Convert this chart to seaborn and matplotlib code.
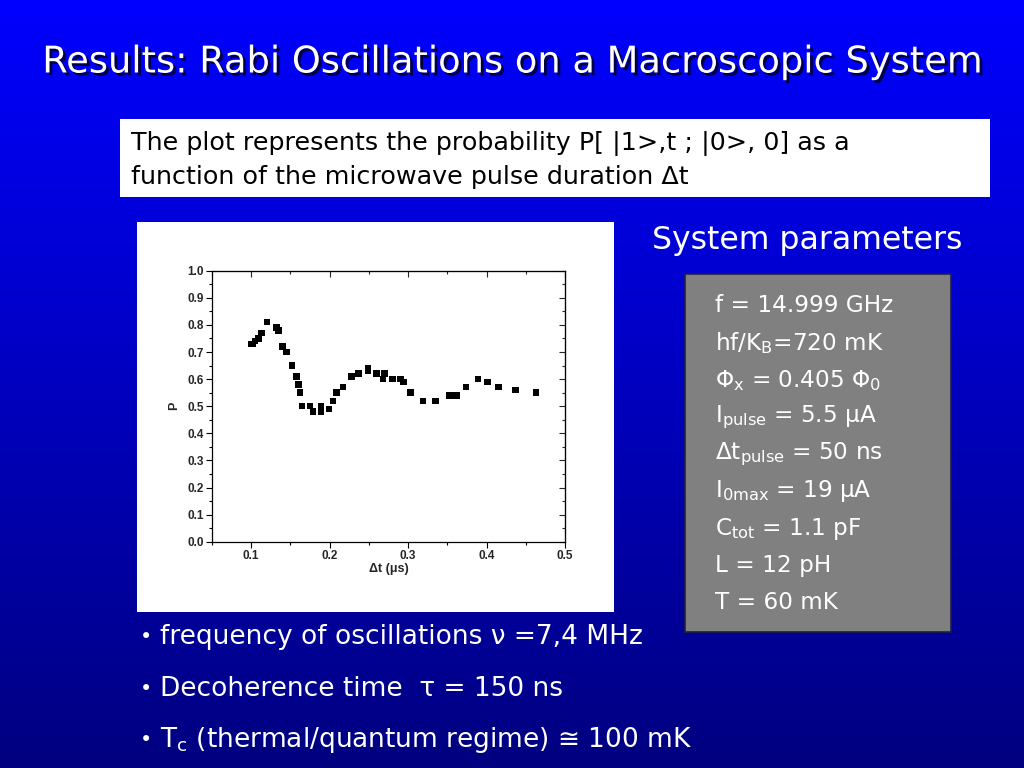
import numpy as np
import pandas as pd
import matplotlib
matplotlib.use("Agg")
import matplotlib.pyplot as plt
import matplotlib.patheffects as pe
from matplotlib.patches import Rectangle
from matplotlib.ticker import MultipleLocator
import seaborn as sns

# ---- data ----
dt_us = [0.100, 0.102, 0.105, 0.109, 0.113, 0.120, 0.132, 0.135, 0.140, 0.145,
         0.152, 0.158, 0.160, 0.162, 0.165, 0.175, 0.179, 0.189, 0.189, 0.199,
         0.204, 0.209, 0.217, 0.228, 0.237, 0.249, 0.249, 0.260, 0.268, 0.270,
         0.280, 0.290, 0.294, 0.303, 0.319, 0.335, 0.353, 0.362, 0.374, 0.389,
         0.401, 0.415, 0.437, 0.463]
prob = [0.73, 0.73, 0.74, 0.75, 0.77, 0.81, 0.79, 0.78, 0.72, 0.70,
        0.65, 0.61, 0.58, 0.55, 0.50, 0.50, 0.48, 0.50, 0.48, 0.49,
        0.52, 0.55, 0.57, 0.61, 0.62, 0.64, 0.63, 0.62, 0.60, 0.62,
        0.60, 0.60, 0.59, 0.55, 0.52, 0.52, 0.54, 0.54, 0.57, 0.60,
        0.59, 0.57, 0.56, 0.55]
x_ticks = [0.1, 0.2, 0.3, 0.4, 0.5]
y_ticks = [0.0, 0.1, 0.2, 0.3, 0.4, 0.5, 0.6, 0.7, 0.8, 0.9, 1.0]

title = "Results: Rabi Oscillations on a Macroscopic System"
intro_lines = ["The plot represents the probability P[ |1>,t ; |0>, 0] as a",
               "function of the microwave pulse duration \u0394t"]
params_heading = "System parameters"
params = ["f = 14.999 GHz",
          "hf/K$_\\mathregular{B}$=720 mK",
          "\u03a6$_\\mathregular{x}$ = 0.405 \u03a6$_\\mathregular{0}$",
          "I$_\\mathregular{pulse}$ = 5.5 \u03bcA",
          "\u0394t$_\\mathregular{pulse}$ = 50 ns",
          "I$_\\mathregular{0max}$ = 19 \u03bcA",
          "C$_\\mathregular{tot}$ = 1.1 pF",
          "L = 12 pH",
          "T = 60 mK"]
bullets = ["frequency of oscillations \u03bd =7,4 MHz",
           "Decoherence time  \u03c4 = 150 ns",
           "T$_\\mathregular{c}$ (thermal/quantum regime) \u2245 100 mK"]

df = pd.DataFrame({"dt": dt_us, "P": prob})

sns.set_style("white")
plt.rcParams["font.family"] = ["DejaVu Sans"]
plt.rcParams["mathtext.fontset"] = "dejavusans"
plt.rcParams["mathtext.default"] = "regular"

W, H = 1024, 768
fig = plt.figure(figsize=(W / 100, H / 100), dpi=100)

def fx(px):
    return px / W

def fy(py):
    return 1 - py / H

# ---- background gradient ----
bg = fig.add_axes([0, 0, 1, 1], zorder=-10)
grad = np.linspace(0, 1, 256).reshape(-1, 1)
top = np.array([0, 0, 255]) / 255
bot = np.array([0, 0, 128]) / 255
img = top[None, None, :] * (1 - grad[:, :, None]) + bot[None, None, :] * grad[:, :, None]
bg.imshow(img, aspect="auto", extent=[0, 1, 0, 1], origin="upper")
bg.set_axis_off()

# ---- title ----
fig.text(0.5, fy(62), title, ha="center", va="center", color="white",
         fontsize=26.5,
         path_effects=[pe.withSimplePatchShadow(offset=(2, -2), shadow_rgbFace="#000030", alpha=0.9)])

# ---- white intro box ----
fig.patches.append(Rectangle((fx(120), fy(197)), fx(990 - 120), (197 - 119) / H,
                             transform=fig.transFigure, facecolor="white",
                             edgecolor="none", zorder=1))
fig.text(fx(131), fy(143), intro_lines[0], ha="left", va="center", fontsize=18.3, color="black", zorder=2)
fig.text(fx(131), fy(177), intro_lines[1], ha="left", va="center", fontsize=18.3, color="black", zorder=2)

# ---- white plot panel ----
fig.patches.append(Rectangle((fx(137), fy(612)), fx(614 - 137), (612 - 222) / H,
                             transform=fig.transFigure, facecolor="white",
                             edgecolor="none", zorder=1))

ax = fig.add_axes([fx(212), fy(541.7), fx(565 - 212), (541.7 - 270.7) / H], zorder=3)
sns.scatterplot(data=df, x="dt", y="P", marker="s", s=22, color="black",
                edgecolor="none", linewidth=0, ax=ax, legend=False)
ax.set_xlim(0.05, 0.5)
ax.set_ylim(0.0, 1.0)
ax.set_xticks(x_ticks)
ax.set_yticks(y_ticks)
ax.set_xticklabels([f"{v:.1f}" for v in x_ticks], fontweight="bold", fontsize=8.5,
                   family="Liberation Sans")
ax.set_yticklabels([f"{v:.1f}" for v in y_ticks], fontweight="bold", fontsize=8.5,
                   family="Liberation Sans")
ax.xaxis.set_minor_locator(MultipleLocator(0.05))
ax.yaxis.set_minor_locator(MultipleLocator(0.05))
ax.tick_params(axis="both", which="major", direction="out", length=4, width=0.8,
               color="black", pad=2, bottom=True, left=True)
ax.tick_params(axis="both", which="minor", direction="out", length=2.5, width=0.8,
               color="black", bottom=True, left=True)
for sp in ax.spines.values():
    sp.set_color("black")
    sp.set_linewidth(0.9)
ax.set_xlabel("\u0394t (\u03bcs)", fontweight="bold", fontsize=9, family="Liberation Sans", labelpad=1)
ax.set_ylabel("P", fontweight="bold", fontsize=9, family="Liberation Sans", labelpad=5)

# mirrored ticks pointing inward on top and right
sx = ax.secondary_xaxis("top")
sx.set_xticks(x_ticks)
sx.xaxis.set_minor_locator(MultipleLocator(0.05))
sx.tick_params(axis="x", which="major", direction="in", length=4, width=0.8, labeltop=False)
sx.tick_params(axis="x", which="minor", direction="in", length=2.5, width=0.8)
sx.set_xticklabels([])
sy = ax.secondary_yaxis("right")
sy.set_yticks(y_ticks)
sy.yaxis.set_minor_locator(MultipleLocator(0.05))
sy.tick_params(axis="y", which="major", direction="in", length=4, width=0.8)
sy.tick_params(axis="y", which="minor", direction="in", length=2.5, width=0.8)
sy.set_yticklabels([])

# ---- system parameters ----
fig.text(fx(652), fy(240), params_heading, ha="left", va="center", color="white", fontsize=22.7)
fig.patches.append(Rectangle((fx(685), fy(632)), fx(951 - 685), (632 - 274) / H,
                             transform=fig.transFigure, facecolor="#808080",
                             edgecolor="#202040", linewidth=1.2, zorder=1))
y0 = 306
for i, line in enumerate(params):
    fig.text(fx(715), fy(y0 + i * 37.1), line, ha="left", va="center",
             color="white", fontsize=16.7, zorder=2)

# ---- bullets ----
for i, line in enumerate(bullets):
    yy = fy(637 + i * 51.5)
    fig.text(fx(140), yy, "\u2022", ha="left", va="center", color="white", fontsize=15)
    fig.text(fx(160), yy, line, ha="left", va="center", color="white", fontsize=19)

fig.savefig("out.png", dpi=100)
